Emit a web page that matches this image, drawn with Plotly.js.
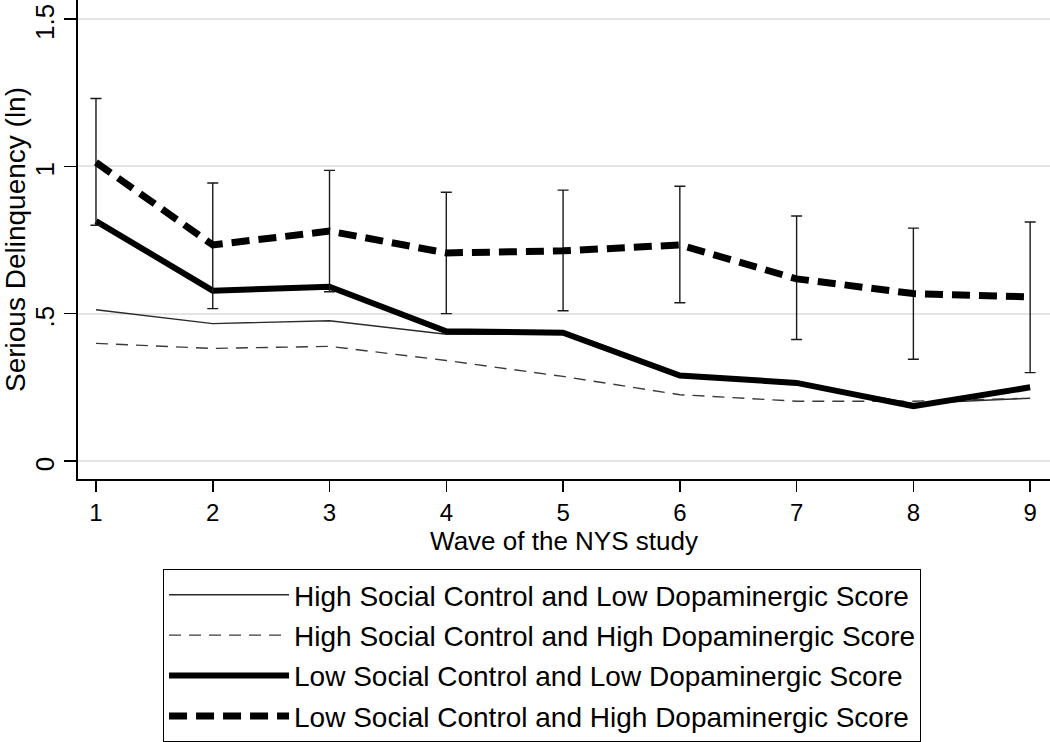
<!DOCTYPE html>
<html>
<head>
<meta charset="utf-8">
<script src="https://cdn.plot.ly/plotly-3.0.1.min.js"></script>
<style>html,body{margin:0;padding:0;background:#fff;}#chart{width:1050px;height:742px;}</style>
</head>
<body>
<div id="chart"></div>
<script>
// Wave of the NYS study
const waves = [1, 2, 3, 4, 5, 6, 7, 8, 9];
// Series (Serious Delinquency, ln)
const highControlLowDopa  = [0.513, 0.466, 0.476, 0.430, 0.430, 0.290, 0.265, 0.195, 0.213];
const highControlHighDopa = [0.399, 0.382, 0.389, 0.341, 0.287, 0.225, 0.203, 0.203, 0.213];
const lowControlLowDopa   = [0.814, 0.578, 0.591, 0.440, 0.435, 0.290, 0.265, 0.186, 0.250];
const lowControlHighDopa  = [1.013, 0.733, 0.780, 0.706, 0.713, 0.733, 0.618, 0.568, 0.557];
// Confidence interval bounds for the Low Social Control / High Dopaminergic series
const ciUpper = [1.230, 0.943, 0.986, 0.912, 0.919, 0.932, 0.831, 0.790, 0.811];
const ciLower = [0.800, 0.517, 0.574, 0.500, 0.510, 0.537, 0.412, 0.345, 0.300];
// Labels
const seriesNames = [
  "High Social Control and Low Dopaminergic Score",
  "High Social Control and High Dopaminergic Score",
  "Low Social Control and Low Dopaminergic Score",
  "Low Social Control and High Dopaminergic Score"
];
const yTickVals = [0, 0.5, 1, 1.5];
const yTickText = ["0", ".5", "1", "1.5"];

const FONT = "Liberation Sans, Arial, sans-serif";

const traces = [
  {x: waves, y: highControlLowDopa, name: seriesNames[0], legendgroup: "g1",
   mode: "lines", line: {color: "#2a2a2a", width: 1.4}},
  {x: waves, y: highControlHighDopa, name: seriesNames[1], legendgroup: "g2",
   mode: "lines", line: {color: "#3a3a3a", width: 1.4, dash: "12px,8px"}},
  {x: waves, y: lowControlLowDopa, name: seriesNames[2], legendgroup: "g3",
   mode: "lines", line: {color: "#000", width: 6}},
  {x: waves, y: lowControlHighDopa, name: seriesNames[3], legendgroup: "g4",
   mode: "lines", line: {color: "#000", width: 7, dash: "18px,9px"},
   error_y: {type: "data", symmetric: false,
     array: ciUpper.map((u, i) => u - lowControlHighDopa[i]),
     arrayminus: ciLower.map((l, i) => lowControlHighDopa[i] - l),
     color: "#1a1a1a", thickness: 1.4, width: 5.5}}
];

const layout = {
  width: 1050, height: 742,
  margin: {l: 78, r: 0, t: 0, b: 261, pad: 0},
  paper_bgcolor: "#fff", plot_bgcolor: "#fff",
  font: {family: FONT, size: 24, color: "#000"},
  showlegend: true,
  xaxis: {
    range: [0.846, 9.17], tickvals: waves, ticktext: waves.map(String),
    showgrid: false, zeroline: false,
    showline: true, linecolor: "#000", linewidth: 2,
    ticks: "outside", ticklen: 11, tickwidth: 1.5, tickcolor: "#000",
    ticklabelstandoff: 0,
    tickfont: {family: FONT, size: 24, color: "#000"},
    title: {text: "Wave of the NYS study", font: {family: FONT, size: 26, color: "#000"}, standoff: 0}
  },
  yaxis: {
    range: [-0.061, 1.564], tickvals: yTickVals, ticktext: yTickText,
    tickangle: -90, ticklabeloverflow: "allow", ticklabelshift: 7,
    showgrid: true, gridcolor: "#e4e4e4", gridwidth: 2,
    zeroline: false,
    showline: true, linecolor: "#000", linewidth: 2,
    ticks: "outside", ticklen: 12, tickwidth: 1.5, tickcolor: "#000",
    ticklabelstandoff: 0,
    tickfont: {family: FONT, size: 26, color: "#000"},
    title: {text: "Serious Delinquency (ln)", font: {family: FONT, size: 28, color: "#000"}, standoff: 8}
  },
  legend: {
    x: 0.0875, xanchor: "left", y: -0.189, yanchor: "top",
    bordercolor: "#000", borderwidth: 1, bgcolor: "#fff",
    font: {family: FONT, size: 28, color: "#000"},
    traceorder: "grouped", tracegroupgap: 1,
    itemwidth: 120
  }
};

Plotly.newPlot("chart", traces, layout, {displayModeBar: false, staticPlot: true});
</script>
</body>
</html>
